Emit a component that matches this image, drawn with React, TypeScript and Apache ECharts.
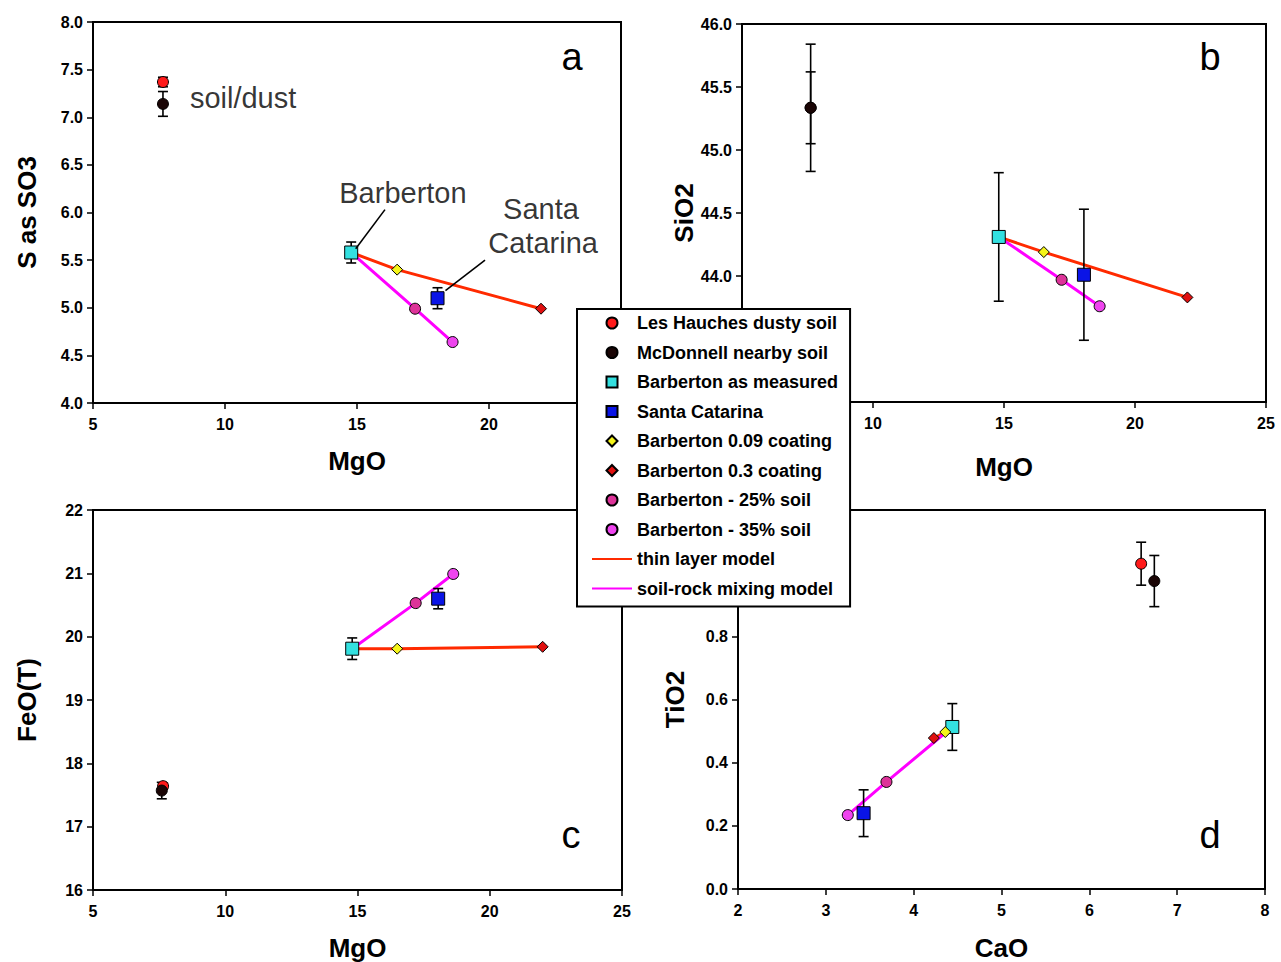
import React, { useEffect, useRef } from "react";
import * as echarts from "echarts";

const FONT = "'Liberation Sans', Arial, Helvetica, sans-serif";

// sample order: Les Hauches, McDonnell, Barberton, Santa Catarina, 0.09 coat, 0.3 coat, 25% soil, 35% soil
const SAMPLES = [
  "Les Hauches dusty soil",
  "McDonnell nearby soil",
  "Barberton as measured",
  "Santa Catarina",
  "Barberton 0.09 coating",
  "Barberton 0.3 coating",
  "Barberton - 25% soil",
  "Barberton - 35% soil",
];
const MODELS = ["thin layer model", "soil-rock mixing model"];

// panel a: MgO vs S as SO3
const MGO_A = [7.65, 7.65, 14.78, 18.05, 16.52, 21.97, 17.2, 18.62];
const SO3_A = [7.37, 7.14, 5.58, 5.1, 5.4, 4.99, 4.99, 4.64];
const SO3_ERR = [0.05, 0.13, 0.11, 0.11, 0, 0, 0, 0];
// panel b: MgO vs SiO2
const MGO_B = [7.62, 7.62, 14.8, 18.05, 16.52, 22.0, 17.2, 18.65];
const SIO2_B = [45.335, 45.335, 44.31, 44.01, 44.19, 43.83, 43.97, 43.76];
const SIO2_ERR = [0.285, 0.505, 0.51, 0.52, 0, 0, 0, 0];
// panel c: MgO vs FeO(T)
const MGO_C = [7.65, 7.6, 14.8, 18.05, 16.5, 22.0, 17.2, 18.62];
const FEO_C = [17.64, 17.57, 19.81, 20.6, 19.81, 19.84, 20.53, 20.99];
const FEO_ERR = [0.05, 0.13, 0.17, 0.16, 0, 0, 0, 0];
// panel d: CaO vs TiO2
const CAO_D = [6.59, 6.74, 4.44, 3.43, 4.36, 4.23, 3.69, 3.25];
const TIO2_D = [1.03, 0.975, 0.513, 0.24, 0.497, 0.478, 0.339, 0.234];
const TIO2_ERR = [0.068, 0.081, 0.074, 0.074, 0, 0, 0, 0];

const NOTE_TEXT = ["soil/dust", "Barberton", "Santa", "Catarina"];
const NOTE_POS = [
  [8.67, 7.2],
  [16.74, 6.2],
  [21.97, 6.04],
  [22.05, 5.68],
];
const LEADERS = [
  [
    [16.06, 6.03],
    [14.95, 5.62],
  ],
  [
    [19.85, 5.5],
    [18.35, 5.18],
  ],
];

const SYMBOLS = ["circle", "circle", "rect", "rect", "diamond", "diamond", "circle", "circle"];
const LEGEND_ICONS = [
  "circle",
  "circle",
  "path://M0,0H10V10H0Z",
  "path://M0,0H10V10H0Z",
  "path://M5,0L10,5L5,10L0,5Z",
  "path://M5,0L10,5L5,10L0,5Z",
  "circle",
  "circle",
];
const SIZES = [11, 11, 13, 13, 11, 11, 11, 11];
const COLORS = ["#ff1a1a", "#1a0505", "#33e0e0", "#0a14e6", "#f5f51a", "#e01010", "#dd3399", "#ee44ee"];

const PANELS = [
  { xs: MGO_A, ys: SO3_A, errs: SO3_ERR },
  { xs: MGO_B, ys: SIO2_B, errs: SIO2_ERR },
  { xs: MGO_C, ys: FEO_C, errs: FEO_ERR },
  { xs: CAO_D, ys: TIO2_D, errs: TIO2_ERR },
];

const GRIDS = [
  { left: 93, top: 22, width: 528, height: 381 },
  { left: 742, top: 24, width: 524, height: 378 },
  { left: 93, top: 510, width: 529, height: 380 },
  { left: 738, top: 510, width: 527, height: 379 },
];

const tickLabel = {
  fontFamily: FONT,
  fontWeight: "bold" as const,
  fontSize: 16,
  color: "#000",
};
const axisName = {
  fontFamily: FONT,
  fontWeight: "bold" as const,
  fontSize: 26,
  color: "#000",
};

function xAxisOf(i: number, name: string, min: number, max: number, interval: number, gap: number, hideBelow: number) {
  return {
    type: "value",
    gridIndex: i,
    min,
    max,
    interval,
    name,
    nameLocation: "middle",
    nameGap: gap,
    nameTextStyle: axisName,
    axisLine: { show: true, onZero: false, lineStyle: { color: "#000", width: 2 } },
    axisTick: { show: true, inside: false, length: 6, lineStyle: { color: "#000", width: 1.5 } },
    axisLabel: {
      ...tickLabel,
      margin: 13,
      formatter: (v: number) => (v < hideBelow ? "" : String(v)),
    },
    splitLine: { show: false },
  };
}

function yAxisOf(
  i: number,
  name: string,
  min: number,
  max: number,
  interval: number,
  gap: number,
  dec: number,
  showMin: number,
  showMax: number
) {
  return {
    type: "value",
    gridIndex: i,
    min,
    max,
    interval,
    name,
    nameLocation: "middle",
    nameGap: gap,
    nameTextStyle: axisName,
    axisLine: { show: true, onZero: false, lineStyle: { color: "#000", width: 2 } },
    axisTick: { show: true, inside: false, length: 6, lineStyle: { color: "#000", width: 1.5 } },
    axisLabel: {
      ...tickLabel,
      margin: 10,
      formatter: (v: number) => (v < showMin - 1e-9 || v > showMax + 1e-9 ? "" : v.toFixed(dec)),
    },
    splitLine: { show: false },
  };
}

function errorRender(params: any, api: any) {
  const x = api.value(0);
  const lo = api.coord([x, api.value(1)]);
  const hi = api.coord([x, api.value(2)]);
  const w = 5;
  const st = { stroke: "#000", lineWidth: 1.6 };
  return {
    type: "group",
    children: [
      { type: "line", shape: { x1: lo[0], y1: lo[1], x2: hi[0], y2: hi[1] }, style: st },
      { type: "line", shape: { x1: lo[0] - w, y1: lo[1], x2: lo[0] + w, y2: lo[1] }, style: st },
      { type: "line", shape: { x1: hi[0] - w, y1: hi[1], x2: hi[0] + w, y2: hi[1] }, style: st },
    ],
  };
}

function buildSeries() {
  const series: any[] = [];
  PANELS.forEach((p, g) => {
    const pt = (k: number) => [p.xs[k], p.ys[k]];
    series.push({
      name: MODELS[0],
      type: "line",
      xAxisIndex: g,
      yAxisIndex: g,
      data: [pt(2), pt(4), pt(5)],
      symbol: "none",
      lineStyle: { color: "#ff2a00", width: 3 },
      itemStyle: { color: "#ff2a00" },
      silent: true,
      z: 2,
    });
    series.push({
      name: MODELS[1],
      type: "line",
      xAxisIndex: g,
      yAxisIndex: g,
      data: [pt(2), pt(6), pt(7)],
      symbol: "none",
      lineStyle: { color: "#ff00ff", width: 3 },
      itemStyle: { color: "#ff00ff" },
      silent: true,
      z: 2,
    });
    const errData: number[][] = [];
    p.errs.forEach((e, k) => {
      if (e > 0) errData.push([p.xs[k], p.ys[k] - e, p.ys[k] + e]);
    });
    series.push({
      name: "errors",
      type: "custom",
      xAxisIndex: g,
      yAxisIndex: g,
      renderItem: errorRender,
      data: errData,
      silent: true,
      z: 3,
    });
    SAMPLES.forEach((s, k) => {
      series.push({
        name: s,
        type: "scatter",
        xAxisIndex: g,
        yAxisIndex: g,
        data: [pt(k)],
        symbol: SYMBOLS[k],
        symbolSize: SIZES[k],
        itemStyle: { color: COLORS[k], borderColor: "#000", borderWidth: 1, opacity: 1 },
        silent: true,
        z: 4,
      });
    });
  });
  // annotations in panel a
  series.push({
    name: "notes",
    type: "scatter",
    xAxisIndex: 0,
    yAxisIndex: 0,
    symbolSize: 0,
    silent: true,
    z: 5,
    data: NOTE_POS.map((pos, k) => ({
      value: pos,
      label: {
        show: true,
        formatter: NOTE_TEXT[k],
        position: [0, 0],
        align: k === 0 ? "left" : "center",
        verticalAlign: "middle",
        fontFamily: FONT,
        fontSize: 29,
        color: "#000",
      },
    })),
  });
  LEADERS.forEach((seg) => {
    series.push({
      name: "leader",
      type: "line",
      xAxisIndex: 0,
      yAxisIndex: 0,
      data: seg,
      symbol: "none",
      silent: true,
      lineStyle: { color: "#000", width: 1.6 },
      z: 5,
    });
  });
  return series;
}

export default function App() {
  const ref = useRef<HTMLDivElement>(null);
  useEffect(() => {
    if (!ref.current) return;
    const chart = echarts.init(ref.current, null, { renderer: "svg" });
    const letters = [
      { t: "a", x: 572, y: 57 },
      { t: "b", x: 1210, y: 57 },
      { t: "c", x: 571, y: 835 },
      { t: "d", x: 1210, y: 835 },
    ];
    const legendData: any[] = [
      ...SAMPLES.map((s, k) => ({ name: s, icon: LEGEND_ICONS[k] })),
      ...MODELS.map((m) => ({ name: m, itemStyle: { opacity: 0 } })),
    ];
    chart.setOption({
      animation: false,
      backgroundColor: "#fff",
      grid: GRIDS.map((g) => ({ ...g, show: true, borderColor: "#000", borderWidth: 2, containLabel: false })),
      xAxis: [
        xAxisOf(0, "MgO", 5, 25, 5, 45, 0),
        xAxisOf(1, "MgO", 5, 25, 5, 52, 6),
        xAxisOf(2, "MgO", 5, 25, 5, 45, 0),
        xAxisOf(3, "CaO", 2, 8, 1, 46, 0),
      ],
      yAxis: [
        yAxisOf(0, "S as SO3", 4, 8, 0.5, 53, 1, 4, 8),
        yAxisOf(1, "SiO2", 43, 46, 0.5, 39, 1, 44, 46),
        yAxisOf(2, "FeO(T)", 16, 22, 1, 53, 0, 16, 22),
        yAxisOf(3, "TiO2", 0, 1.2, 0.2, 50, 1, 0, 0.8),
      ],
      legend: {
        data: legendData,
        orient: "vertical",
        left: 577,
        top: 309,
        backgroundColor: "#fff",
        borderColor: "#000",
        borderWidth: 2,
        borderRadius: 0,
        padding: [4, 12, 8, 14],
        itemWidth: 40,
        itemHeight: 11,
        itemGap: 9.5,
        selectedMode: false,
        textStyle: {
          fontFamily: FONT,
          fontWeight: "bold",
          fontSize: 18,
          lineHeight: 20,
          color: "#000",
        },
        z: 10,
      },
      graphic: letters.map((l) => ({
        type: "text",
        x: l.x,
        y: l.y,
        style: {
          text: l.t,
          fontFamily: FONT,
          fontSize: 38,
          fill: "#000",
          textAlign: "center",
          textVerticalAlign: "middle",
        },
        z: 20,
      })),
      series: buildSeries(),
    });
    return () => chart.dispose();
  }, []);
  return (
    <div
      ref={ref}
      style={{ position: "absolute", left: 0, top: 0, width: 1281, height: 962 }}
    />
  );
}
